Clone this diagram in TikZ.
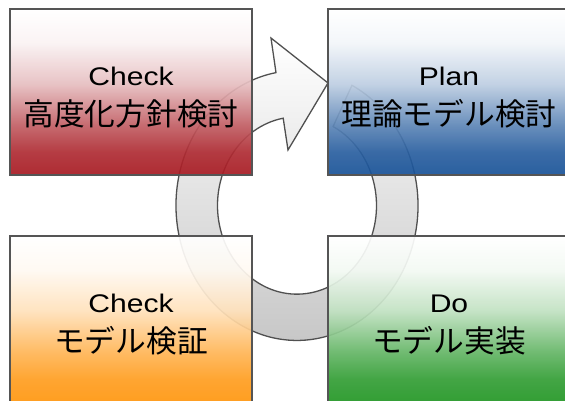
\documentclass[tikz,border=0pt]{standalone}
\usepackage{fontspec}
\newfontfamily\jpfont{Noto Sans CJK JP}
\newfontfamily\latfont[FakeStretch=1.18]{Liberation Sans}
\definecolor{cred}{RGB}{168,26,34}
\definecolor{cblue}{RGB}{24,82,152}
\definecolor{cgreen}{RGB}{34,150,36}
\definecolor{corange}{RGB}{255,150,14}
\definecolor{boxline}{RGB}{85,85,85}
\definecolor{ringline}{RGB}{80,80,80}
\definecolor{ringgray}{RGB}{196,196,196}
\pgfdeclareverticalshading{redshade}{100bp}{color(0bp)=(cred); color(25bp)=(cred); color(32bp)=(cred!92!white); color(40bp)=(cred!70!white); color(52.5bp)=(cred!28!white); color(65bp)=(cred!5!white); color(75bp)=(white); color(100bp)=(white)}
\pgfdeclareverticalshading{blueshade}{100bp}{color(0bp)=(cblue); color(25bp)=(cblue); color(32bp)=(cblue!92!white); color(40bp)=(cblue!70!white); color(52.5bp)=(cblue!28!white); color(65bp)=(cblue!5!white); color(75bp)=(white); color(100bp)=(white)}
\pgfdeclareverticalshading{greenshade}{100bp}{color(0bp)=(cgreen); color(25bp)=(cgreen); color(32bp)=(cgreen!92!white); color(40bp)=(cgreen!70!white); color(52.5bp)=(cgreen!28!white); color(65bp)=(cgreen!5!white); color(75bp)=(white); color(100bp)=(white)}
\pgfdeclareverticalshading{orangeshade}{100bp}{color(0bp)=(corange); color(25bp)=(corange); color(32bp)=(corange!92!white); color(40bp)=(corange!70!white); color(52.5bp)=(corange!28!white); color(65bp)=(corange!5!white); color(75bp)=(white); color(100bp)=(white)}
\tikzset{
  box/.style={draw=boxline, line width=1.4pt, shade, fill opacity=0.92, draw opacity=1,
    minimum width=242pt, minimum height=166pt, inner sep=0pt, outer sep=0pt, anchor=north west},
  lat/.style={font=\latfont\fontsize{25.5}{30}\selectfont, anchor=base, inner sep=0pt},
  jp/.style={font=\jpfont\fontsize{30.7}{36}\selectfont, anchor=base, inner sep=0pt},
  ring/.style={top color=white, bottom color=ringgray, draw=ringline, line width=1.3pt}
}
\begin{document}
\begin{tikzpicture}[x=1pt,y=-1pt]
\clip (0,0) rectangle (565,400);
\fill[white] (0,0) rectangle (565,400);
% circular arrow
\begin{scope}[shift={(297,205.5)}, yscale=1.115]
\shadedraw[ring] (-63:121) arc[start angle=-63, end angle=260, radius=121]
  -- (-26,-150.2) -- (31,-109.9) -- (-9,-49.8) -- (260:79.5)
  arc[start angle=260, end angle=-63, radius=79.5] -- cycle;
\end{scope}
% boxes
\node[box, shading=redshade] (b1) at (10,9) {};
\node[box, shading=blueshade] (b2) at (328,9) {};
\node[box, shading=orangeshade] (b3) at (10,236) {};
\node[box, shading=greenshade] (b4) at (328,236) {};
% labels
\node[lat] (t1a) at (131,85.5) {Check};
\node[jp] (t1b) at (131,125) {高度化方針検討};
\node[lat] (t2a) at (449,85.5) {Plan};
\node[jp] (t2b) at (449,125) {理論モデル検討};
\node[lat] (t3a) at (131,312.5) {Check};
\node[jp] (t3b) at (131,352) {モデル検証};
\node[lat] (t4a) at (449,312.5) {Do};
\node[jp] (t4b) at (449,352) {モデル実装};
\end{tikzpicture}
\end{document}
